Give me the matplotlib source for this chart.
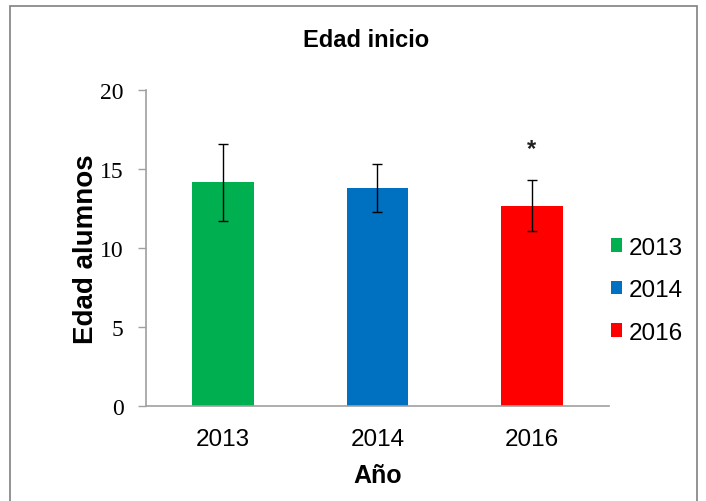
import matplotlib
matplotlib.use("Agg")
import matplotlib.pyplot as plt
from matplotlib.patches import Rectangle, Patch

categories = ["2013", "2014", "2016"]
means = [14.15, 13.8, 12.68]
errors = [2.45, 1.5, 1.62]
colors = ["#00B050", "#0070C0", "#FF0000"]
yticks = [0, 5, 10, 15, 20]
star_y = 16.3

SANS = "Liberation Sans"

fig = plt.figure(figsize=(7.06, 5.02), dpi=100)
ax = fig.add_axes([0.2068, 0.1892, 0.6558, 0.6295])

x = list(range(len(categories)))
ax.bar(x, means, width=0.4, color=colors, zorder=2)
ax.errorbar(x, means, yerr=errors, fmt="none", ecolor="black", elinewidth=1.0,
            capsize=3.6, capthick=1.0, zorder=3)
ax.text(2, star_y, "*", ha="center", va="center", fontsize=17,
        family=SANS, fontweight="bold", color="#202020")

ax.set_xlim(-0.5, 2.5)
ax.set_ylim(0, 20)
ax.set_yticks(yticks)
ax.set_yticklabels([str(t) for t in yticks], family="Liberation Serif", fontsize=17)
ax.set_xticks(x)
ax.set_xticklabels(categories, family=SANS, fontsize=17.5)
ax.tick_params(axis="x", length=0, pad=16)
ax.tick_params(axis="y", length=6, width=1, color="#a0a0a0", pad=10)

for s in ["top", "right"]:
    ax.spines[s].set_visible(False)
for s in ["left", "bottom"]:
    ax.spines[s].set_color("#a0a0a0")
    ax.spines[s].set_linewidth(1.2)

ax.set_ylabel("Edad alumnos", family=SANS, fontweight="bold",
              fontsize=20, labelpad=1)
ax.set_xlabel("Año", family=SANS, fontweight="bold", fontsize=18,
              labelpad=9)
fig.text(0.518, 0.92, "Edad inicio", ha="center", va="center",
         family=SANS, fontweight="bold", fontsize=17)

handles = [Patch(facecolor=c, edgecolor="none") for c in colors]
fig.legend(handles, categories, loc="center left",
           bbox_to_anchor=(0.834, 0.42), frameon=False,
           prop={"family": SANS, "size": 17.5},
           handlelength=0.45, handleheight=0.5, handletextpad=0.3,
           labelspacing=0.85)

fig.patches.append(Rectangle((10/706, -0.05), (697-10)/706, 1.05 - 7/502,
                             transform=fig.transFigure, fill=False,
                             edgecolor="#808080", linewidth=1.2))

fig.savefig("out.png", dpi=100, facecolor="white")
